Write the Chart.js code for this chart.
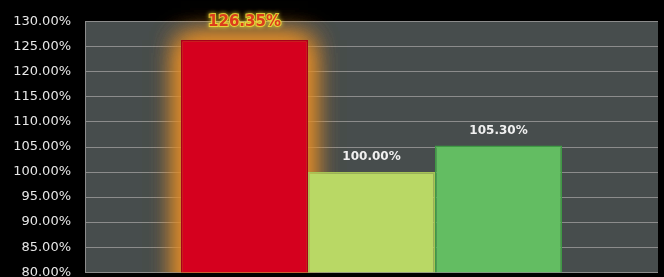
<!DOCTYPE html>
<html>
<head>
<meta charset="utf-8">
<script src="https://cdn.jsdelivr.net/npm/chart.js@4.4.0/dist/chart.umd.min.js"></script>
<style>
  html, body { margin: 0; padding: 0; background: #000; overflow: hidden; }
  #wrap { width: 664px; height: 294px; position: relative; }
</style>
</head>
<body>
<div id="wrap"><canvas id="barChart"></canvas></div>
<script>
// du lieu
const categories = [''];
const seriesNames = ['A', 'B', 'C'];
const seriesValues = [126.35, 100.00, 105.30];
const seriesColors = ['#d5001e', '#b9d865', '#63bd62'];
const seriesBorders = ['#a8001a', '#a6c455', '#3f9a45'];
const yMin = 80, yMax = 130, yStep = 5;

const ctx = document.getElementById('barChart').getContext('2d');

// nen vung ve
const plotBg = {
    id: 'plotBg',
    beforeDraw(chart) {
        const a = chart.chartArea;
        const c = chart.ctx;
        c.save();
        c.fillStyle = '#474d4d';
        c.fillRect(a.left, a.top, a.right - a.left, a.bottom - a.top);
        c.restore();
    }
};

// hieu ung phat sang cho cot dau
const glow = {
    id: 'glow',
    beforeDatasetsDraw(chart) {
        const bar = chart.getDatasetMeta(0).data[0];
        const a = chart.chartArea;
        const c = chart.ctx;
        const w = bar.width;
        c.save();
        c.beginPath();
        c.rect(a.left, 0, a.right - a.left, a.bottom);
        c.clip();
        c.shadowColor = 'rgba(225,140,40,1)';
        c.shadowBlur = 26;
        c.fillStyle = 'rgba(200,120,40,1)';
        for (let k = 0; k < 3; k++) {
            c.fillRect(bar.x - w / 2, bar.y, w, bar.base - bar.y);
        }
        c.restore();
    }
};

// nhan du lieu
const valueLabels = {
    id: 'valueLabels',
    afterDatasetsDraw(chart) {
        const c = chart.ctx;
        c.save();
        c.textAlign = 'center';
        c.textBaseline = 'middle';
        chart.data.datasets.forEach((ds, i) => {
            const bar = chart.getDatasetMeta(i).data[0];
            const txt = ds.data[0].toFixed(2) + '%';
            if (i === 0) {
                const y = bar.y - 18;
                c.font = 'bold 15px "DejaVu Sans", sans-serif';
                c.shadowColor = '#ffe830';
                c.shadowBlur = 4;
                c.lineWidth = 2;
                c.strokeStyle = 'rgba(240,220,60,0.85)';
                c.strokeText(txt, bar.x, y);
                c.shadowBlur = 0;
                c.fillStyle = '#dc3c1c';
                c.fillText(txt, bar.x, y);
            } else {
                const y = bar.y - 15;
                c.font = 'bold 12px "DejaVu Sans", sans-serif';
                c.fillStyle = '#f0f0f0';
                c.fillText(txt, bar.x, y);
            }
        });
        c.restore();
    }
};

const barChart = new Chart(ctx, {
    type: 'bar',
    data: {
        labels: categories,
        datasets: seriesNames.map((n, i) => ({
            label: n,
            data: [seriesValues[i]],
            backgroundColor: seriesColors[i],
            borderColor: seriesBorders[i],
            borderWidth: 1.5,
            barPercentage: 1.0,
            categoryPercentage: 0.665
        }))
    },
    options: {
        responsive: true,
        maintainAspectRatio: false,
        animation: false,
        layout: { padding: { top: 11, right: 6, bottom: 8, left: 0 } },
        plugins: {
            legend: { display: false },
            tooltip: { enabled: false }
        },
        scales: {
            x: {
                display: false
            },
            y: {
                min: yMin,
                max: yMax,
                ticks: {
                    stepSize: yStep,
                    color: '#e6e6e6',
                    font: { size: 13, family: '"DejaVu Sans", sans-serif' },
                    padding: 14,
                    callback: v => v.toFixed(2) + '%'
                },
                grid: {
                    color: '#8c8c8c',
                    lineWidth: 1,
                    drawTicks: false
                },
                border: { display: true, color: '#8c8c8c' },
                afterFit(scale) { scale.width = 85; }
            }
        }
    },
    plugins: [plotBg, glow, valueLabels]
});
</script>
</body>
</html>
